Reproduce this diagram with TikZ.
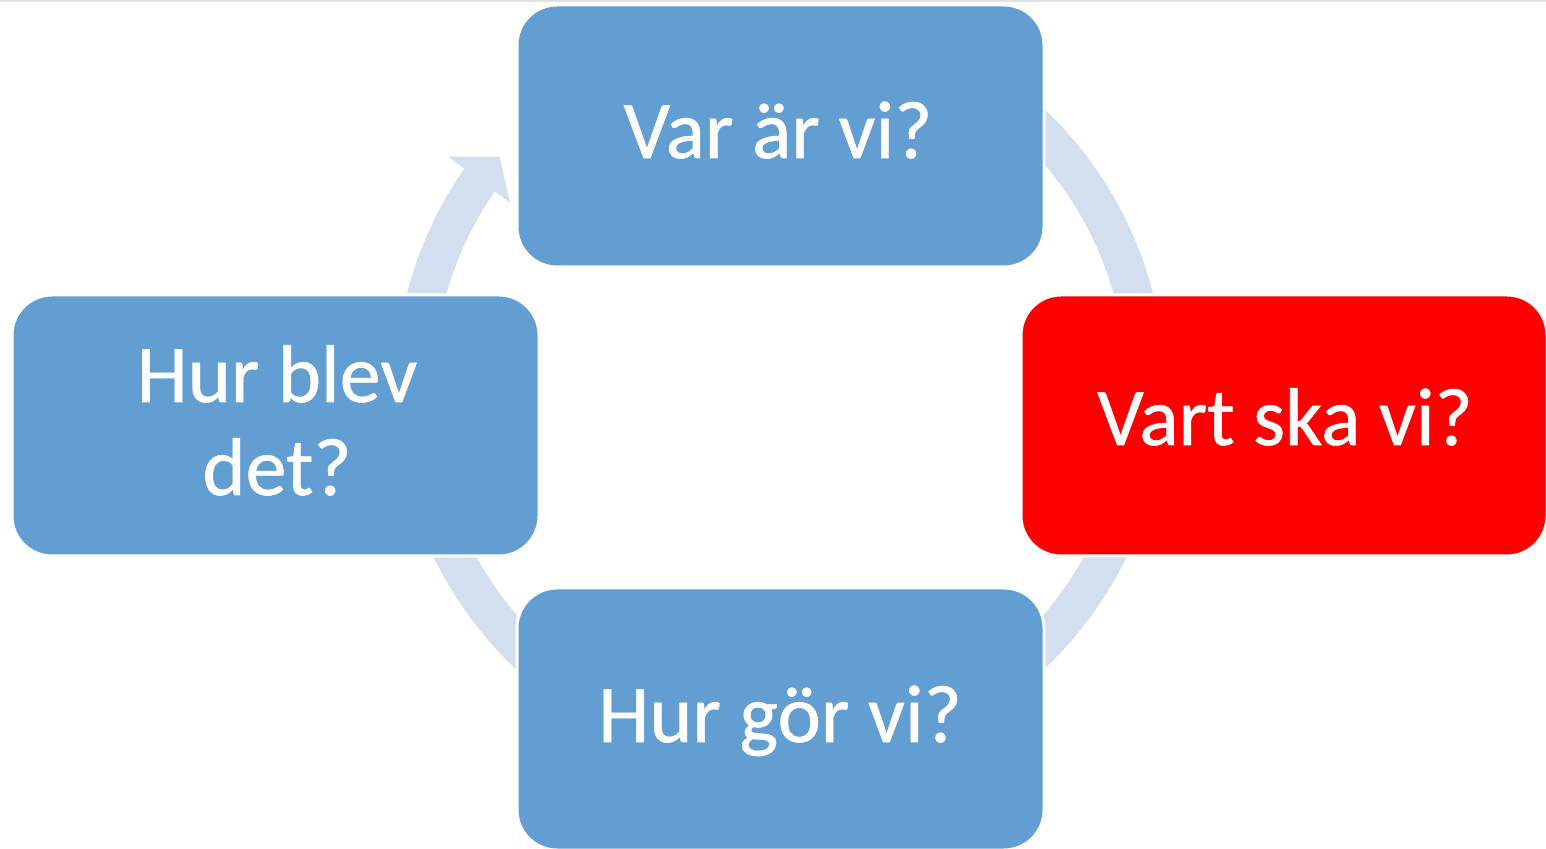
\documentclass[tikz,border=0pt]{standalone}
\usepackage{fontspec}
\setmainfont{Carlito}
\newfontfamily\labelfont[FakeBold=0.7]{Carlito}
\definecolor{boxblue}{RGB}{99,158,210}
\definecolor{ringblue}{RGB}{211,223,238}
\definecolor{boxred}{RGB}{255,0,0}
\definecolor{topline}{RGB}{225,225,225}
\tikzset{
  stage/.style={draw=white, line width=3pt, rounded corners=40pt},
  label/.style={text=white, font=\labelfont\fontsize{82}{93}\selectfont, anchor=base, inner sep=0pt, align=center},
  ring/.style={draw=ringblue, line width=38pt},
}
\begin{document}
\begin{tikzpicture}[x=1pt,y=1pt]
\useasboundingbox (0,0) rectangle (1546,848);
\fill[white] (0,0) rectangle (1546,848);
\draw[topline, line width=1.5pt] (0,847.2) -- (1546,847.2);
% ring centre (780,389) in pixel coords -> (780,459)
\coordinate (c) at (780,459);
\draw[ring] ([shift={(80:366)}]c) arc[start angle=80, end angle=-215, radius=366];
\fill[ringblue] ([shift={(145:405)}]c) -- ([shift={(140.4:364)}]c) -- ([shift={(145.4:328)}]c) -- cycle;
% boxes
\filldraw[stage, fill=boxblue] (517,581) rectangle (1044,843);
\filldraw[stage, fill=boxblue] (12,292) rectangle (539,553);
\filldraw[stage, fill=boxred] (1021,292) rectangle (1547,553);
\filldraw[stage, fill=boxblue] (517,-2) rectangle (1044,260);
% labels
\node[label] (top) at (778,690) {Var är vi?};
\node[label] (left) at (277,353) {Hur blev\\det?};
\node[label] (right) at (1285,403) {Vart ska vi?};
\node[label] (bottom) at (780,106) {Hur gör vi?};
\end{tikzpicture}
\end{document}
